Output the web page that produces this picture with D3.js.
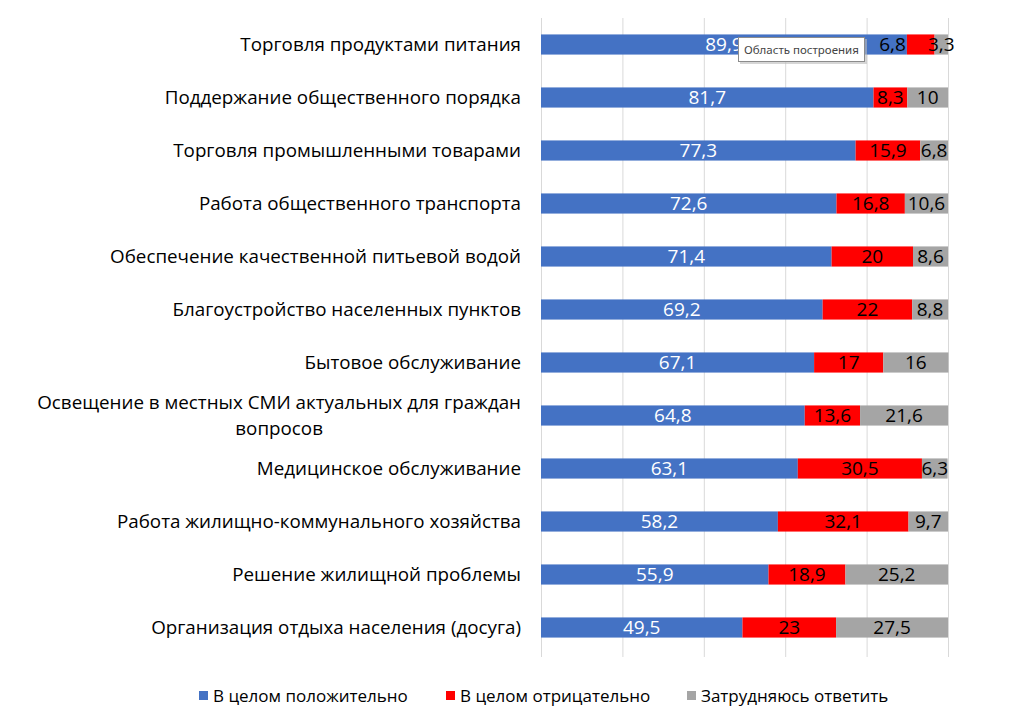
<!DOCTYPE html>
<html><head><meta charset="utf-8">
<script src="https://cdn.jsdelivr.net/npm/d3@7"></script>
<style>body{margin:0;background:#fff}svg{display:block}</style>
</head><body>
<svg id="c" width="1024" height="720"></svg>
<script>
const categories = [
  "Торговля продуктами питания",
  "Поддержание общественного порядка",
  "Торговля промышленными товарами",
  "Работа общественного транспорта",
  "Обеспечение качественной питьевой водой",
  "Благоустройство населенных пунктов",
  "Бытовое обслуживание",
  "Освещение в местных СМИ актуальных для граждан|вопросов",
  "Медицинское обслуживание",
  "Работа жилищно-коммунального хозяйства",
  "Решение жилищной проблемы",
  "Организация отдыха населения (досуга)"
];
const positive = [89.9, 81.7, 77.3, 72.6, 71.4, 69.2, 67.1, 64.8, 63.1, 58.2, 55.9, 49.5];
const negative = [6.8, 8.3, 15.9, 16.8, 20, 22, 17, 13.6, 30.5, 32.1, 18.9, 23];
const unsure   = [3.3, 10, 6.8, 10.6, 8.6, 8.8, 16, 21.6, 6.3, 9.7, 25.2, 27.5];
const seriesNames = ["В целом положительно", "В целом отрицательно", "Затрудняюсь ответить"];
const xTicks = [0, 20, 40, 60, 80, 100];

const colors = ["#4472C4", "#FF0000", "#A5A5A5"];
const labelColors = ["#ffffff", "#000000", "#000000"];
const FONT = "'Open Sans', sans-serif";
const fmt = v => String(v).replace(".", ",");

const svg = d3.select("#c");
const x = d3.scaleLinear().domain([0, 100]).range([541, 948]);
const y = d3.scaleBand().domain(categories).range([18, 654]).paddingInner(0.62).paddingOuter(0.31);

// gridlines
svg.append("g").selectAll("line").data(xTicks).join("line")
  .attr("x1", d => x(d) + 0.5).attr("x2", d => x(d) + 0.5)
  .attr("y1", 18).attr("y2", 657)
  .attr("stroke", "#d9d9d9").attr("stroke-width", 1);

const stack = d3.stack().keys([0, 1, 2]).value((d, k) => d.vals[k]);
const rows = categories.map((c, i) => ({cat: c, vals: [positive[i], negative[i], unsure[i]]}));
const stacked = stack(rows);

stacked.forEach((layer, k) => {
  svg.append("g").selectAll("rect").data(layer).join("rect")
    .attr("x", d => x(d[0]))
    .attr("width", d => x(d[1]) - x(d[0]))
    .attr("y", d => y(d.data.cat))
    .attr("height", y.bandwidth())
    .attr("fill", colors[k]);
});

// data labels with simple overlap avoidance
const lblG = svg.append("g").attr("font-family", FONT).attr("font-size", 19);
rows.forEach((r, i) => {
  const cy = y(r.cat) + y.bandwidth() / 2;
  const items = [];
  for (let k = 0; k < 3; k++) {
    const seg = stacked[k][i];
    const t = lblG.append("text")
      .attr("x", (x(seg[0]) + x(seg[1])) / 2)
      .attr("y", cy).attr("dy", "0.36em")
      .attr("text-anchor", "middle")
      .attr("fill", labelColors[k])
      .text(fmt(r.vals[k]));
    items.push({t, seg, w: t.node().getComputedTextLength()});
  }
  const a = items[1], b = items[2];
  const aRight = (x(a.seg[0]) + x(a.seg[1])) / 2 + a.w / 2;
  const bLeft = +b.t.attr("x") - b.w / 2;
  if (aRight > bLeft - 1) {
    a.t.attr("text-anchor", "end").attr("x", x(a.seg[0]) - 1);
  }
});

// category labels
const catG = svg.append("g").attr("font-family", FONT).attr("font-size", 18.8).attr("fill", "#000");
categories.forEach(c => {
  const cy = y(c) + y.bandwidth() / 2;
  const parts = c.split("|");
  if (parts.length === 1) {
    catG.append("text").attr("x", 521).attr("y", cy).attr("dy", "0.36em")
      .attr("text-anchor", "end").text(c);
  } else {
    const t1 = catG.append("text").attr("x", 521).attr("y", cy - 13).attr("dy", "0.36em")
      .attr("text-anchor", "end").text(parts[0]);
    const w1 = t1.node().getComputedTextLength();
    catG.append("text").attr("x", 521 - w1 / 2).attr("y", cy + 13).attr("dy", "0.36em")
      .attr("text-anchor", "middle").text(parts[1]);
  }
});

// legend
const legX = [199, 446, 687];
const leg = svg.append("g").attr("font-family", FONT).attr("font-size", 17);
seriesNames.forEach((n, k) => {
  leg.append("rect").attr("x", legX[k]).attr("y", 691).attr("width", 9).attr("height", 9).attr("fill", colors[k]);
  leg.append("text").attr("x", legX[k] + 14).attr("y", 696).attr("dy", "0.36em").attr("fill", "#000").text(n);
});

// tooltip overlay
const tip = svg.append("g");
tip.append("rect").attr("x", 740).attr("y", 39).attr("width", 127).attr("height", 25).attr("fill", "#bbb").attr("opacity", 0.6);
tip.append("rect").attr("x", 738.5).attr("y", 37.5).attr("width", 126).attr("height", 24).attr("fill", "#fff").attr("stroke", "#8c8c8c");
tip.append("text").attr("x", 744).attr("y", 50).attr("dy", "0.36em").attr("font-family", "'Noto Sans', sans-serif")
  .attr("font-size", 11.5).attr("fill", "#444").text("Область построения");
</script>
</body></html>
